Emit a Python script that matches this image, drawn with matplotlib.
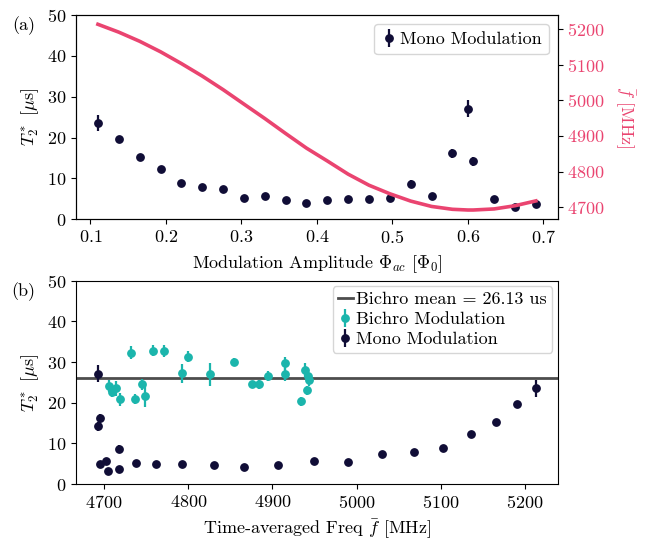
import numpy as np
import matplotlib
matplotlib.use("Agg")
import matplotlib.pyplot as plt


plt.rcParams["font.family"] = "serif"
plt.rcParams["font.serif"] = ["cmr10"]
plt.rcParams["mathtext.fontset"] = "cm"
plt.rcParams["axes.formatter.use_mathtext"] = True
plt.rcParams["font.size"] = 13

MONO_COLOR = "#100d36"
BICHRO_COLOR = "#1bb5ac"
FREQ_COLOR = "#ea4470"
MEAN_COLOR = "#4d4d4d"

# mono modulation sweep: amplitude, resulting mean frequency, T2*
mono_amp = [0.110, 0.1376, 0.1652, 0.1929, 0.2205, 0.2481, 0.2757, 0.3033,
            0.3310, 0.3586, 0.3862, 0.4138, 0.4414, 0.4690, 0.4967, 0.5243,
            0.5519, 0.5795, 0.600, 0.6071, 0.6348, 0.6624, 0.690]
mono_freq = [5213.0, 5191.0, 5165.5, 5136.0, 5103.0, 5068.0, 5030.0, 4989.5,
             4949.0, 4907.0, 4866.0, 4830.0, 4793.0, 4762.0, 4738.0, 4717.5,
             4702.5, 4694.5, 4692.5, 4692.5, 4695.5, 4704.5, 4718.0]
mono_t2 = [23.5, 19.65, 15.2, 12.3, 8.96, 7.9, 7.3, 5.3,
           5.7, 4.65, 4.07, 4.65, 4.9, 4.97, 5.1, 8.7,
           5.7, 16.2, 27.1, 14.2, 5.0, 3.1, 3.7]
mono_err = [2.0, 0.8, 0.5, 0.5, 0.5, 0.4, 0.4, 0.4,
            0.4, 0.4, 0.4, 0.4, 0.4, 0.4, 0.4, 0.9,
            0.5, 1.1, 2.1, 1.1, 0.4, 0.4, 0.5]

# bichromatic modulation runs
bichro_freq = [4705.5, 4709.5, 4714.3, 4718.2, 4731.6, 4736.0, 4745.1, 4748.2,
               4757.7, 4770.8, 4792.2, 4800.1, 4825.9, 4854.8, 4875.3, 4883.6,
               4895.1, 4915.0, 4915.0, 4934.0, 4938.5, 4940.5, 4942.0, 4943.5]
bichro_t2 = [24.1, 22.7, 23.5, 20.8, 32.3, 20.9, 24.5, 21.7,
             32.8, 32.8, 27.2, 31.3, 27.0, 29.9, 24.5, 24.5,
             26.6, 29.7, 27.0, 20.3, 28.0, 23.0, 26.5, 25.6]
bichro_err = [1.4, 1.2, 1.8, 1.6, 1.6, 1.2, 1.3, 2.7,
              1.4, 1.5, 2.4, 1.4, 2.8, 1.0, 0.6, 1.2,
              1.2, 1.6, 1.6, 1.0, 1.8, 1.1, 1.4, 1.6]

bichro_mean = np.mean(bichro_t2)

fig = plt.figure(figsize=(6.47, 5.42), dpi=100)
ax1 = fig.add_axes([0.1175, 0.5954, 0.7445, 0.3769])
ax3 = fig.add_axes([0.1175, 0.107, 0.7445, 0.3751])

# (a) T2* against modulation amplitude, with mean frequency on twin axis
ax1.errorbar(mono_amp, mono_t2, yerr=mono_err, fmt="o", color=MONO_COLOR,
             ms=5.3, elinewidth=1.6, label="Mono Modulation")
ax1.set_ylim(0, 50)
ax1.set_yticks([0, 10, 20, 30, 40, 50])
ax1.set_xticks([0.1, 0.2, 0.3, 0.4, 0.5, 0.6, 0.7])
ax1.set_xlabel(r"Modulation Amplitude $\Phi_{ac}$ [$\Phi_0$]", labelpad=5)
ax1.set_ylabel(r"$T_2^*$ [$\mu$s]")
ax1.legend(loc="upper right", handletextpad=0.2, borderpad=0.4,
           handlelength=0.8)

ax2 = ax1.twinx()
ax2.plot(mono_amp, mono_freq, color=FREQ_COLOR, lw=2.6)
ax2.set_yticks([4700, 4800, 4900, 5000, 5100, 5200])
ax2.tick_params(axis="y", labelcolor=FREQ_COLOR)
ax2.set_ylabel(r"$\bar{f}$ [MHz]", color=FREQ_COLOR, rotation=270,
               labelpad=23)

# (b) T2* against time-averaged frequency
ax3.axhline(bichro_mean, color=MEAN_COLOR, lw=2,
            label=f"Bichro mean = {bichro_mean:.2f} us")
ax3.errorbar(bichro_freq, bichro_t2, yerr=bichro_err, fmt="o",
             color=BICHRO_COLOR, ms=5.3, elinewidth=1.6,
             label="Bichro Modulation")
ax3.errorbar(mono_freq, mono_t2, yerr=mono_err, fmt="o", color=MONO_COLOR,
             ms=5.3, elinewidth=1.6, label="Mono Modulation")
ax3.set_ylim(0, 50)
ax3.set_yticks([0, 10, 20, 30, 40, 50])
ax3.set_xticks([4700, 4800, 4900, 5000, 5100, 5200])
ax3.set_xlabel(r"Time-averaged Freq $\bar{f}$ [MHz]", labelpad=5)
ax3.set_ylabel(r"$T_2^*$ [$\mu$s]")
ax3.legend(loc="upper right", handletextpad=0.2, borderpad=0.3,
           handlelength=0.8, labelspacing=0.25, borderaxespad=0.3)

fig.text(0.036, 0.953, "(a)", ha="center", va="center")
fig.text(0.036, 0.461, "(b)", ha="center", va="center")

fig.savefig("out.png", dpi=100)
